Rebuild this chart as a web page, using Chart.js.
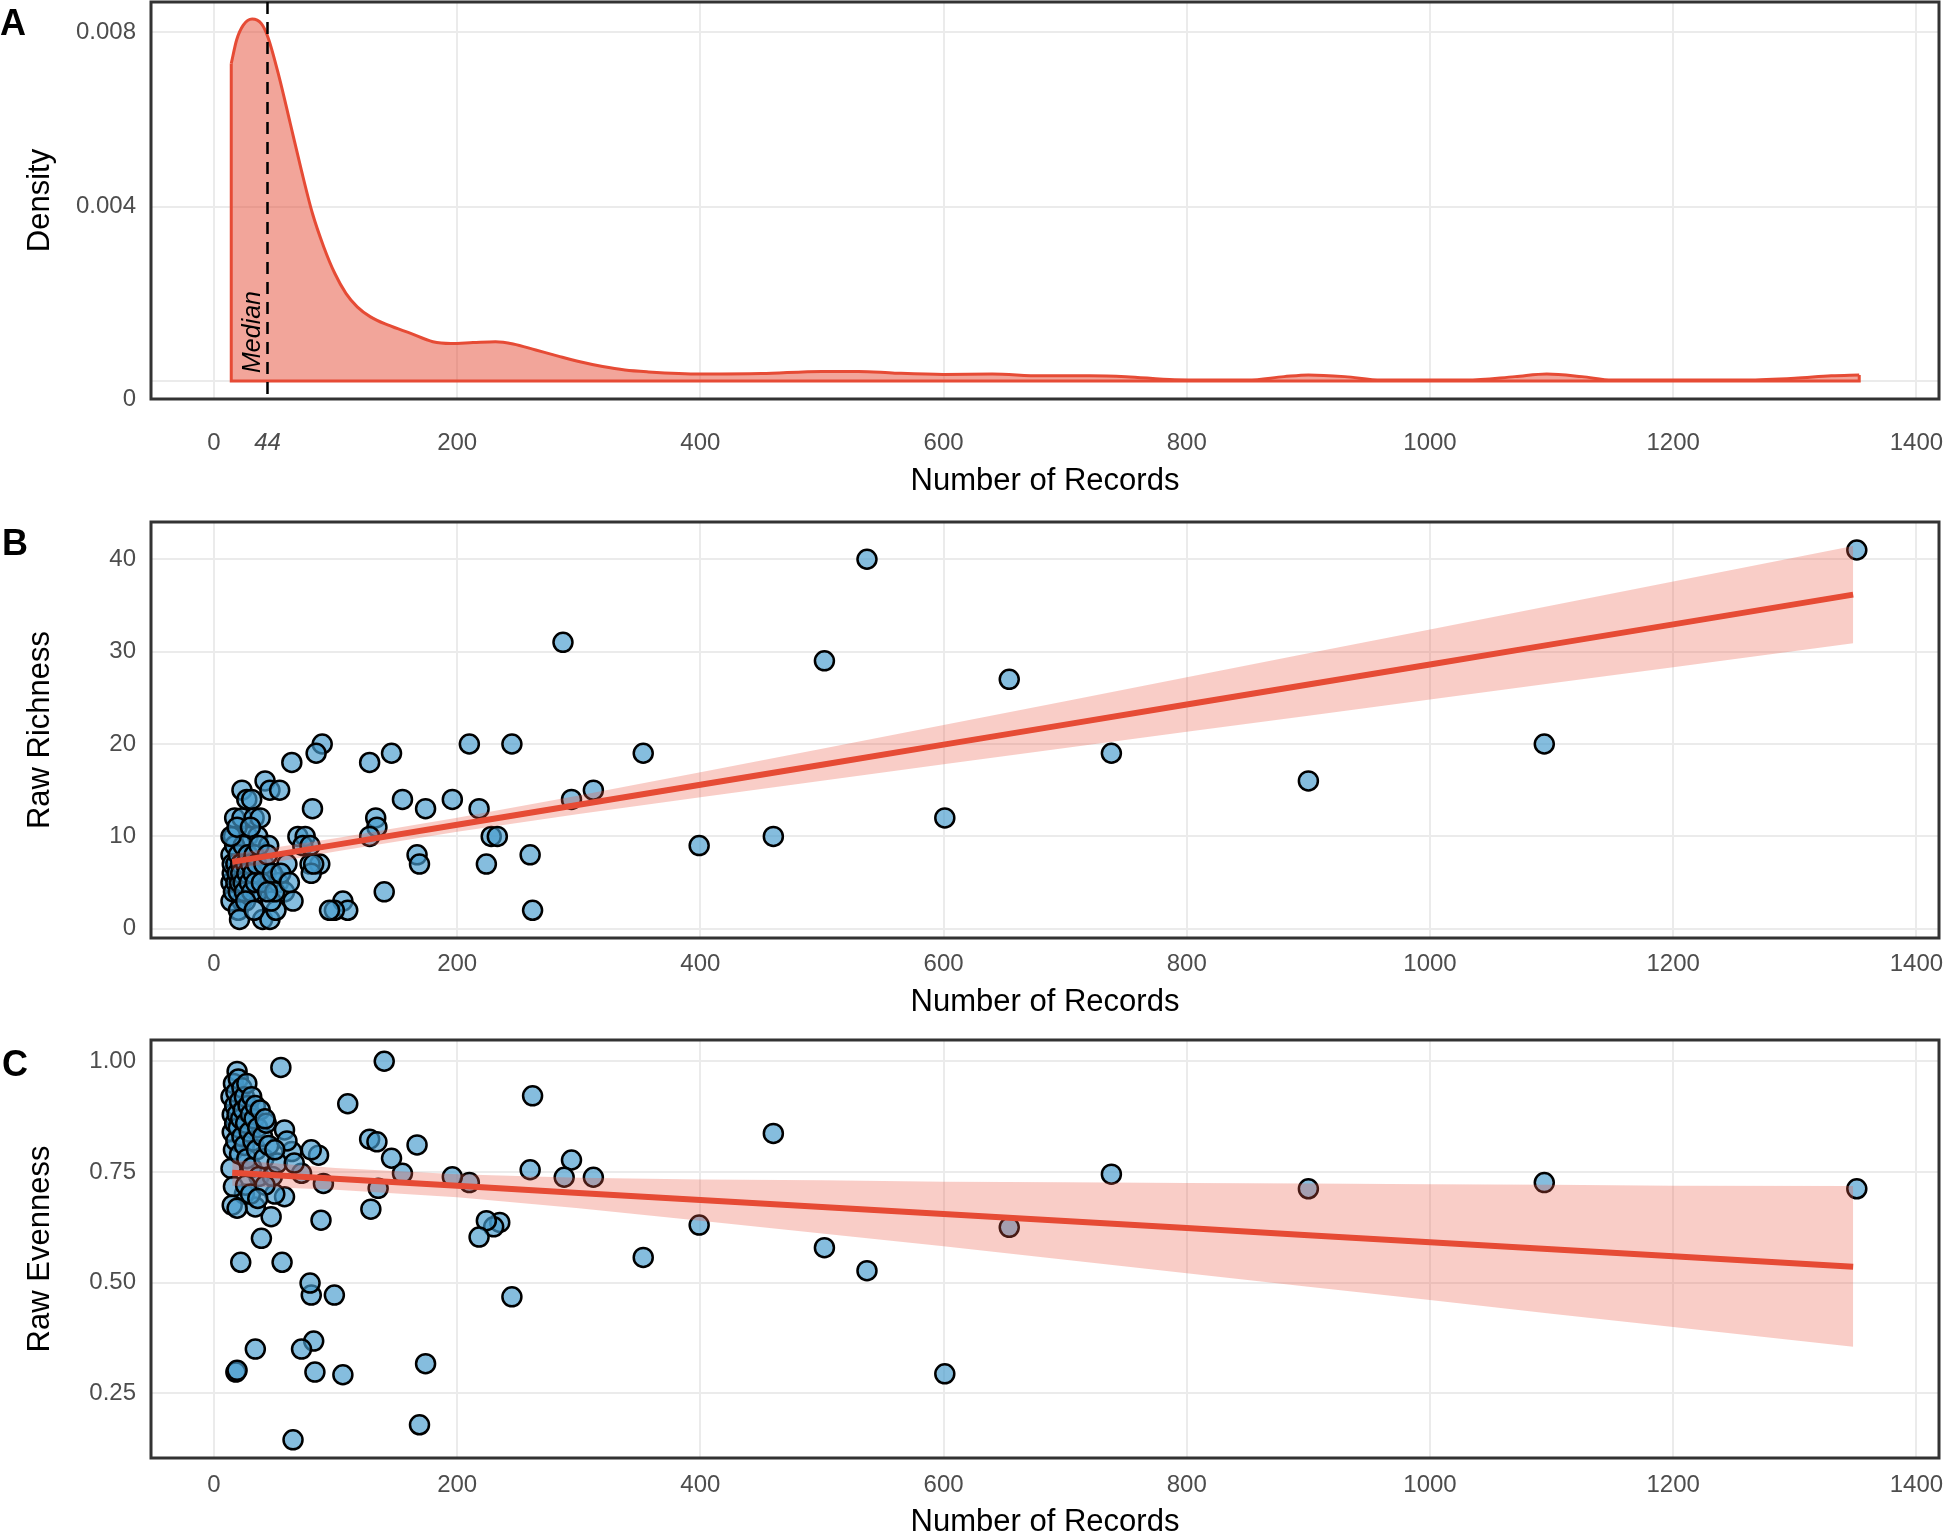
<!DOCTYPE html>
<html>
<head>
<meta charset="utf-8">
<script src="https://cdn.jsdelivr.net/npm/chart.js@4.4.1/dist/chart.umd.min.js"></script>
<style>
  html, body { margin: 0; padding: 0; background: #fff; overflow: hidden; }
  canvas { position: absolute; left: 0; }
</style>
</head>
<body>
<canvas id="chartA" width="1946" height="500" style="top:0px"></canvas>
<canvas id="chartB" width="1946" height="520" style="top:500px"></canvas>
<canvas id="chartC" width="1946" height="530" style="top:1020px"></canvas>
<script>
// ---- data ----
const xTicks = [0, 200, 400, 600, 800, 1000, 1200, 1400];
const xTicksA = [0, 44, 200, 400, 600, 800, 1000, 1200, 1400];
const medianRecords = 44;

// panel A: density of number of records
const densityRecords = [14.2, 18.6, 24.1, 31.4, 38.8, 44.3, 53.5, 62.7, 71.8, 81, 90.2, 99.3, 108.5, 117.8, 128.7, 143.4, 161.8, 180, 194.8, 213, 231.5, 246, 264.6, 283, 301, 319.6, 338, 356, 400, 450, 500, 530, 560, 600, 640, 680, 720, 750, 790, 850, 880, 900, 930, 960, 1030, 1070, 1096, 1125, 1150, 1260, 1300, 1330, 1353];
const densityValues = [0.00728, 0.00782, 0.00816, 0.0083, 0.0082, 0.00789, 0.00698, 0.00591, 0.00484, 0.00384, 0.00308, 0.00247, 0.00201, 0.0017, 0.00147, 0.00128, 0.00109, 0.0009, 0.00086, 0.00088, 0.0009, 0.00085, 0.00071, 0.00057, 0.00044, 0.00033, 0.00025, 0.00021, 0.00016, 0.00017, 0.00022, 0.00022, 0.00018, 0.00015, 0.00016, 0.00012, 0.00012, 0.0001, 0.00003, 0.00002, 0.0001, 0.00014, 0.0001, 0.00002, 0.00002, 0.0001, 0.00016, 0.0001, 0.00002, 0.00002, 0.00006, 0.00012, 0.00014];
const densityTicks = [0, 0.004, 0.008];

// panel B: raw richness
const richRecords = [1351, 537, 287, 502, 654, 738, 1094, 900, 601, 460, 399, 353, 294, 312, 245, 210, 218, 196, 228, 233, 224, 260, 262, 174, 155, 146, 128, 133, 134, 128, 167, 169, 140, 106, 110, 99, 89, 84, 64, 81,
  42, 46, 54, 23, 27, 31, 17, 23, 33, 38, 16, 28, 36, 45, 69, 75, 73, 79, 87, 79, 80, 82, 60, 14, 38, 43, 53, 58, 65, 14, 23, 20, 21, 40, 46, 51, 47, 36, 95,
  14, 15, 15, 16, 17, 18, 18, 19, 20, 20, 21, 22, 22, 24, 24, 25, 26, 27, 28, 29, 30, 31, 32, 33, 34, 35, 37, 39, 41, 44, 48, 50, 55, 62, 14, 19, 30, 26, 33, 44];
const richValues = [41, 40, 31, 29, 27, 19, 20, 16, 12, 10, 9, 19, 14, 15, 20, 20, 13, 14, 10, 10, 7, 8, 2, 13, 14, 19, 18, 12, 11, 10, 8, 7, 4, 3, 2, 2, 20, 19, 18, 13,
  16, 15, 15, 15, 14, 14, 12, 12, 12, 12, 10, 10, 10, 9, 10, 10, 9, 9, 7, 7, 6, 7, 7, 8, 6, 6, 5, 4, 3, 3, 3, 2, 1, 1, 1, 2, 3, 4, 2,
  5, 6, 7, 4, 9, 5, 7, 6, 8, 4, 5, 7, 6, 9, 5, 4, 7, 6, 8, 5, 7, 4, 6, 8, 5, 7, 9, 5, 7, 8, 6, 4, 6, 5, 10, 11, 11, 3, 2, 4];
const richTicks = [0, 10, 20, 30, 40];
// fitted line with confidence band
const richFitX = [15, 100, 200, 300, 400, 500, 600, 700, 800, 900, 1000, 1100, 1200, 1348];
const richFit = [7.24, 9.08, 11.25, 13.42, 15.59, 17.76, 19.93, 22.10, 24.27, 26.44, 28.61, 30.78, 32.95, 36.17];
const richUpper = [8.09, 9.79, 12.01, 14.43, 16.94, 19.49, 22.06, 24.64, 27.22, 29.81, 32.40, 34.99, 37.58, 41.43];
const richLower = [6.39, 8.37, 10.49, 12.41, 14.24, 16.03, 17.80, 19.56, 21.32, 23.07, 24.82, 26.57, 28.32, 30.91];

// panel C: raw evenness
const evenRecords = [1351, 1094, 900, 738, 654, 601, 537, 502, 460, 399, 353, 312, 294, 288, 260, 262, 245, 235, 230, 224, 218, 210, 196, 174, 169, 167, 155, 146, 140, 135, 129, 128, 134, 110, 106, 99, 90, 88, 86, 83, 82, 80, 80, 79, 72, 72, 65, 64, 58, 58, 56, 55, 50, 47, 39, 34, 34, 25, 22, 18, 19, 19, 14, 16, 15, 19,
  14, 15, 15, 16, 16, 17, 17, 18, 18, 19, 20, 20, 21, 21, 22, 23, 23, 24, 25, 25, 26, 27, 27, 28, 29, 30, 31, 31, 32, 33, 34, 35, 36, 37, 38, 40, 41, 43, 45, 48, 52, 26, 30, 42, 36, 42, 60, 66, 50];
const evenValues = [0.712, 0.726, 0.712, 0.745, 0.625, 0.294, 0.527, 0.579, 0.837, 0.63, 0.557, 0.738, 0.777, 0.738, 0.755, 0.922, 0.468, 0.636, 0.626, 0.64, 0.603, 0.726, 0.739, 0.317, 0.179, 0.811, 0.747, 0.781, 1.0, 0.713, 0.666, 0.824, 0.818, 0.904, 0.292, 0.472, 0.724, 0.641, 0.788, 0.298, 0.368, 0.80, 0.472, 0.499, 0.747, 0.35, 0.145, 0.796, 0.845, 0.694, 0.546, 0.986, 0.70, 0.649, 0.60, 0.35, 0.671, 0.70, 0.546, 0.298, 0.302, 0.977, 0.758, 0.717, 0.675, 0.668,
  0.92, 0.88, 0.84, 0.95, 0.80, 0.90, 0.86, 0.93, 0.82, 0.88, 0.96, 0.85, 0.91, 0.79, 0.87, 0.94, 0.83, 0.89, 0.92, 0.81, 0.86, 0.95, 0.78, 0.90, 0.84, 0.88, 0.92, 0.76, 0.82, 0.87, 0.90, 0.80, 0.85, 0.74, 0.89, 0.83, 0.78, 0.86, 0.81, 0.74, 0.77, 0.72, 0.70, 0.72, 0.69, 0.87, 0.82, 0.77, 0.80];
const evenTicks = [0.25, 0.5, 0.75, 1.0];
const evenFitX = [15, 100, 200, 300, 400, 500, 600, 700, 800, 900, 1000, 1100, 1200, 1348];
const evenFit = [0.748, 0.7345, 0.7186, 0.7027, 0.6868, 0.6709, 0.6550, 0.6391, 0.6232, 0.6073, 0.5914, 0.5755, 0.5596, 0.5361];
const evenUpper = [0.777, 0.759, 0.745, 0.737, 0.733, 0.731, 0.728, 0.727, 0.725, 0.724, 0.722, 0.721, 0.719, 0.718];
const evenLower = [0.719, 0.710, 0.693, 0.668, 0.640, 0.611, 0.582, 0.552, 0.521, 0.491, 0.461, 0.430, 0.400, 0.355];

// ---- styling ----
const FONT = "'Liberation Sans', Arial, Helvetica, sans-serif";
const RED = '#e64b35';
const xMin = -51.8, xMax = 1418.6;
const yMinA = -0.000413;

function pts(xs, ys) {
  return xs.map((x, i) => ({ x: x, y: ys[i] }));
}

// frame around the plot area + panel letter
const framePlugin = {
  id: 'frame',
  afterDatasetsDraw(chart, args, opts) {
    const ctx = chart.ctx, a = chart.chartArea;
    ctx.save();
    ctx.strokeStyle = '#333333';
    ctx.lineWidth = 3;
    ctx.strokeRect(a.left, a.top, a.right - a.left, a.bottom - a.top);
    ctx.restore();
  },
  afterDraw(chart, args, opts) {
    const ctx = chart.ctx;
    ctx.save();
    ctx.fillStyle = '#000';
    ctx.font = 'bold 36px ' + FONT;
    ctx.textBaseline = 'alphabetic';
    ctx.fillText(opts.letter, opts.x, opts.y);
    ctx.restore();
  }
};
Chart.register(framePlugin);

const medianPlugin = {
  id: 'median',
  afterDatasetsDraw(chart) {
    const ctx = chart.ctx, a = chart.chartArea;
    const xp = chart.scales.x.getPixelForValue(medianRecords);
    const y0 = chart.scales.y.getPixelForValue(0);
    ctx.save();
    ctx.strokeStyle = '#000';
    ctx.lineWidth = 2.5;
    ctx.setLineDash([12, 8]);
    ctx.beginPath();
    ctx.moveTo(xp, a.top);
    ctx.lineTo(xp, a.bottom);
    ctx.stroke();
    ctx.setLineDash([]);
    ctx.translate(xp - 7, y0 - 8);
    ctx.rotate(-Math.PI / 2);
    ctx.fillStyle = '#000';
    ctx.font = 'italic 25px ' + FONT;
    ctx.textBaseline = 'alphabetic';
    ctx.fillText('Median', 0, 0);
    ctx.restore();
  }
};

function xAxis(ticks, height, tickPad, titlePad) {
  return {
    type: 'linear', min: xMin, max: xMax,
    afterBuildTicks: s => { s.ticks = ticks.map(v => ({ value: v })); },
    afterFit: s => { s.height = height; s.paddingLeft = 0; s.paddingRight = 0; },
    grid: {
      color: c => (c.tick && c.tick.value === medianRecords) ? 'rgba(0,0,0,0)' : '#ebebeb',
      lineWidth: 2, drawTicks: false
    },
    border: { display: false },
    ticks: {
      autoSkip: false, maxRotation: 0, padding: tickPad, color: '#4d4d4d',
      callback: v => String(v),
      font: c => ({ family: FONT, size: 24, style: (c.tick && c.tick.value === medianRecords) ? 'italic' : 'normal' })
    },
    title: { display: true, text: 'Number of Records', color: '#000', font: { family: FONT, size: 31, lineHeight: 1.1 }, padding: { top: 0, bottom: titlePad } }
  };
}

function yAxis(min, max, ticks, label, fmt, hideTick) {
  return {
    type: 'linear', min: min, max: max,
    afterBuildTicks: s => { s.ticks = ticks.map(v => ({ value: v })); },
    afterFit: s => { s.width = 151; s.paddingTop = 0; s.paddingBottom = 0; },
    grid: {
      color: c => (c.tick && c.tick.value === hideTick) ? 'rgba(0,0,0,0)' : '#ebebeb',
      lineWidth: 2, drawTicks: false
    },
    border: { display: false },
    ticks: { autoSkip: false, padding: 15, color: '#4d4d4d', font: { family: FONT, size: 24 }, callback: fmt },
    title: { display: true, text: label, color: '#000', font: { family: FONT, size: 31 }, padding: { top: 22, bottom: 0 } }
  };
}

const baseOpts = {
  responsive: false,
  animation: false,
  events: [],
  plugins: { legend: { display: false }, tooltip: { enabled: false } }
};

// ---- panel A ----
new Chart(document.getElementById('chartA'), {
  type: 'scatter',
  data: {
    datasets: [
      {
        data: pts(densityRecords, densityValues),
        showLine: true, cubicInterpolationMode: 'monotone',
        borderColor: RED, borderWidth: 3, pointRadius: 0,
        fill: 'origin', backgroundColor: 'rgba(230,75,53,0.5)'
      },
      {
        data: pts([densityRecords[0], densityRecords[0], densityRecords[densityRecords.length - 1], densityRecords[densityRecords.length - 1]],
                  [densityValues[0], 0, 0, densityValues[densityValues.length - 1]]),
        showLine: true, tension: 0, borderColor: RED, borderWidth: 3, pointRadius: 0, fill: false
      }
    ]
  },
  options: Object.assign({}, baseOpts, {
    layout: { autoPadding: false, padding: { left: 0, right: 7, top: 2, bottom: 0 } },
    scales: {
      x: xAxis(xTicksA, 101, 29.6, 1.45),
      y: yAxis(yMinA, 0.00869, [yMinA].concat(densityTicks), 'Density',
        v => v === yMinA ? '0' : (v === 0 ? '' : v.toFixed(3)), yMinA)
    },
    plugins: Object.assign({}, baseOpts.plugins, { frame: { letter: 'A', x: 0, y: 35 } })
  }),
  plugins: [medianPlugin]
});

// ---- scatter panels ----
function scatterPanel(id, xs, ys, fitX, fit, upper, lower, padTop, axisH, tickPad, titlePad, yMin, yMax, yTicks, label, fmt, letterY) {
  new Chart(document.getElementById(id), {
    type: 'scatter',
    data: {
      datasets: [
        {
          data: pts(xs, ys), order: 3,
          pointRadius: 9.5, pointBorderWidth: 2.5, pointBorderColor: '#000',
          pointBackgroundColor: 'rgba(70,155,205,0.66)'
        },
        {
          data: pts(fitX, upper), order: 2, showLine: true, pointRadius: 0,
          borderWidth: 0, borderColor: 'rgba(0,0,0,0)', fill: '+1', backgroundColor: 'rgba(235,90,70,0.3)'
        },
        {
          data: pts(fitX, lower), order: 2, showLine: true, pointRadius: 0,
          borderWidth: 0, borderColor: 'rgba(0,0,0,0)', fill: false
        },
        {
          data: pts(fitX, fit), order: 1, showLine: true, pointRadius: 0,
          borderWidth: 6, borderColor: RED, fill: false
        }
      ]
    },
    options: Object.assign({}, baseOpts, {
      layout: { autoPadding: false, padding: { left: 0, right: 7, top: padTop, bottom: 0 } },
      scales: {
        x: xAxis(xTicks, axisH, tickPad, titlePad),
        y: yAxis(yMin, yMax, yTicks, label, fmt, null)
      },
      plugins: Object.assign({}, baseOpts.plugins, { frame: { letter: id === 'chartB' ? 'B' : 'C', x: 2, y: letterY } })
    })
  });
}

scatterPanel('chartB', richRecords, richValues, richFitX, richFit, richUpper, richLower,
  22, 82, 12.1, 0.45, -1.0, 44.03, richTicks, 'Raw Richness', v => String(v), 55);
scatterPanel('chartC', evenRecords, evenValues, evenFitX, evenFit, evenUpper, evenLower,
  20, 92, 13.1, 10.45, 0.104, 1.048, evenTicks, 'Raw Evenness', v => v.toFixed(2), 56);
</script>
</body>
</html>
